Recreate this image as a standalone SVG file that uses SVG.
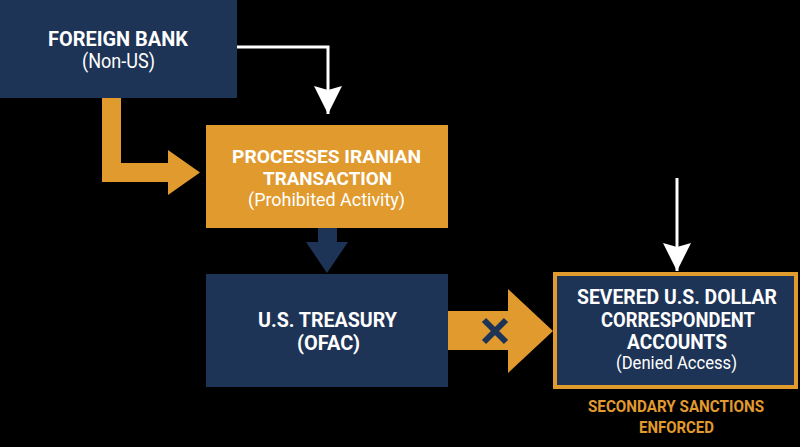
<svg xmlns="http://www.w3.org/2000/svg" width="800" height="447" viewBox="0 0 800 447">
<defs>
<style>
.navy{fill:#1e3456}
.orange{fill:#e09a2e}
.t{font-family:Roboto,"Liberation Sans",sans-serif;text-anchor:middle;fill:#ffffff}
.b{font-weight:bold}
.r{font-weight:normal}
.ot{fill:#e09a2e}
.wline{fill:none;stroke:#ffffff;stroke-width:3}
</style>
<marker id="wh" markerUnits="userSpaceOnUse" markerWidth="30" markerHeight="30" viewBox="0 0 30 30" refX="28" refY="15" orient="auto">
<path d="M0,1 L28,15 L0,29 L4,15 Z" fill="#ffffff"/>
</marker>
</defs>
<rect width="800" height="447" fill="#000000"/>
<g id="connectors">
<path class="wline" d="M237,47 H328 V114" marker-end="url(#wh)"/>
<path class="wline" d="M677,178 V271" marker-end="url(#wh)"/>
<path class="orange" d="M102,98 H121 V163 H168 V150 L200,172.5 L168,195 V182 H102 Z"/>
<path class="navy" d="M318,228 H337 V242 H348 L327,273 L306,242 H318 Z"/>
<path class="orange" d="M448,311 H508 V289 L553,331 L508,373 V350 H448 Z"/>
<path d="M484,320 L506,342 M506,320 L484,342" stroke="#1e3456" stroke-width="6" fill="none"/>
</g>
<g id="foreign-bank">
<rect class="navy" x="0" y="0" width="237" height="98"/>
<text class="t b" x="118" y="46" font-size="21" textLength="140" lengthAdjust="spacingAndGlyphs">FOREIGN BANK</text>
<text class="t r" x="118.5" y="68" font-size="20" textLength="73" lengthAdjust="spacingAndGlyphs">(Non-US)</text>
</g>
<g id="processes">
<rect class="orange" x="206" y="125" width="242" height="103"/>
<text class="t b" x="326.5" y="163" font-size="19" textLength="189" lengthAdjust="spacingAndGlyphs">PROCESSES IRANIAN</text>
<text class="t b" x="327.5" y="184.5" font-size="19" textLength="129" lengthAdjust="spacingAndGlyphs">TRANSACTION</text>
<text class="t r" x="326.5" y="205.5" font-size="18.5" textLength="157" lengthAdjust="spacingAndGlyphs">(Prohibited Activity)</text>
</g>
<g id="treasury">
<rect class="navy" x="206" y="274" width="242" height="113"/>
<text class="t b" x="327.5" y="327" font-size="21" textLength="139" lengthAdjust="spacingAndGlyphs">U.S. TREASURY</text>
<text class="t b" x="328.5" y="350" font-size="21" textLength="63" lengthAdjust="spacingAndGlyphs">(OFAC)</text>
</g>
<g id="severed">
<rect x="555" y="274" width="241" height="113" fill="#1e3456" stroke="#e09a2e" stroke-width="4"/>
<text class="t b" x="677" y="304" font-size="20" textLength="200" lengthAdjust="spacingAndGlyphs">SEVERED U.S. DOLLAR</text>
<text class="t b" x="678" y="327" font-size="20" textLength="154" lengthAdjust="spacingAndGlyphs">CORRESPONDENT</text>
<text class="t b" x="677" y="349" font-size="20" textLength="100" lengthAdjust="spacingAndGlyphs">ACCOUNTS</text>
<text class="t r" x="676.5" y="369" font-size="18" textLength="121" lengthAdjust="spacingAndGlyphs">(Denied Access)</text>
</g>
<g id="secondary-label">
<text class="t b ot" x="676" y="412" font-size="16.5" textLength="176" lengthAdjust="spacingAndGlyphs">SECONDARY SANCTIONS</text>
<text class="t b ot" x="676.5" y="433" font-size="16.5" textLength="75" lengthAdjust="spacingAndGlyphs">ENFORCED</text>
</g>
</svg>
